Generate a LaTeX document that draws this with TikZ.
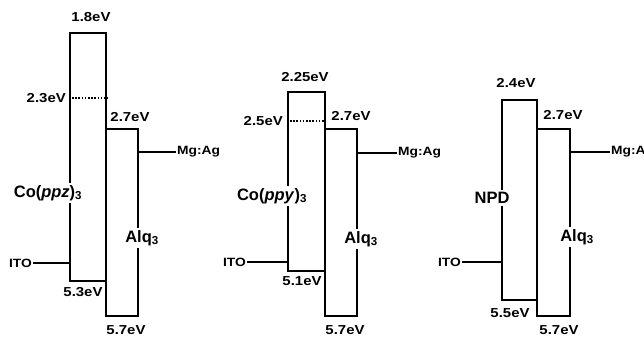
\documentclass[tikz,border=0pt]{standalone}
\usepackage{fontspec}
\setmainfont{Liberation Sans}
\newfontfamily\widefont[FakeStretch=1.15]{Liberation Sans}
\usetikzlibrary{calc}
\begin{document}
\begin{tikzpicture}[x=1pt,y=-1pt,
  band/.style={draw, line width=2.5pt, inner sep=0pt},
  ev/.style={font=\widefont\bfseries\fontsize{13}{15}\selectfont, inner sep=1pt},
  elec/.style={font=\widefont\bfseries\fontsize{12}{14}\selectfont, inner sep=1pt},
  mol/.style={font=\bfseries\fontsize{16.5}{18}\selectfont, fill=white, inner sep=2pt},
  lead/.style={line width=1.2pt},
  hdash/.style={line width=1.5pt, dash pattern=on 1.6pt off 1.6pt}]
\useasboundingbox (0,0) rectangle (644,337);
\clip (0,0) rectangle (644,337);
\fill[white] (0,0) rectangle (644,337);

% ---------- panel 1 ----------
\node[band, minimum width=36pt, minimum height=248pt] (cpz) at (88,157) {};
\node[band, minimum width=32pt, minimum height=187pt] (alqa) at (122,222.5) {};
\coordinate (da) at (88,98);
\draw[hdash] (da -| cpz.west) -- (da -| cpz.east);
\node[ev] (t1a) at (91,17) {1.8eV};
\node[ev, anchor=east] (t2a) at (67,98) {2.3eV};
\node[ev] (t3a) at (130,117) {2.7eV};
\node[ev] (t4a) at (83,292) {5.3eV};
\node[ev] (t5a) at (126,330) {5.7eV};
\node[elec, anchor=east] (itoa) at (33,263) {ITO};
\draw[lead] (itoa.east) -- (itoa.east -| cpz.west);
\node[elec, anchor=west] (mga) at (176,152) {Mg:Ag};
\draw[lead] (mga.west -| alqa.east) -- (mga.west);
\node[mol] (la) at (48,193) {Co(\textit{ppz})\textsubscript{3}};
\node[mol] (lb) at (142,238) {Alq\textsubscript{3}};

% ---------- panel 2 ----------
\node[band, minimum width=37pt, minimum height=179pt] (cpy) at (306.5,181.5) {};
\node[band, minimum width=32pt, minimum height=187pt] (alqb) at (341,222.5) {};
\coordinate (db) at (306,121);
\draw[hdash] (db -| cpy.west) -- (db -| cpy.east);
\node[ev] (t1b) at (305,77) {2.25eV};
\node[ev, anchor=east] (t2b) at (284,121) {2.5eV};
\node[ev] (t3b) at (351,116) {2.7eV};
\node[ev] (t4b) at (302,281) {5.1eV};
\node[ev] (t5b) at (345,330) {5.7eV};
\node[elec, anchor=east] (itob) at (247,262) {ITO};
\draw[lead] (itob.east) -- (itob.east -| cpy.west);
\node[elec, anchor=west] (mgb) at (397,153) {Mg:Ag};
\draw[lead] (mgb.west -| alqb.east) -- (mgb.west);
\node[mol] (lc) at (272,196) {Co(\textit{ppy})\textsubscript{3}};
\node[mol] (ld) at (361,239) {Alq\textsubscript{3}};

% ---------- panel 3 ----------
\node[band, minimum width=35pt, minimum height=200pt] (npd) at (519.5,200) {};
\node[band, minimum width=33pt, minimum height=187pt] (alqc) at (553.5,222.5) {};
\node[ev] (t1c) at (516,83) {2.4eV};
\node[ev] (t3c) at (563,115) {2.7eV};
\node[ev] (t4c) at (510,313) {5.5eV};
\node[ev] (t5c) at (559,330) {5.7eV};
\node[elec, anchor=east] (itoc) at (462,262) {ITO};
\draw[lead] (itoc.east) -- (itoc.east -| npd.west);
\node[elec, anchor=west] (mgc) at (610,152) {Mg:Ag};
\draw[lead] (mgc.west -| alqc.east) -- (mgc.west);
\node[mol] (le) at (492,198) {NPD};
\node[mol] (lf) at (577,237) {Alq\textsubscript{3}};
\end{tikzpicture}
\end{document}
